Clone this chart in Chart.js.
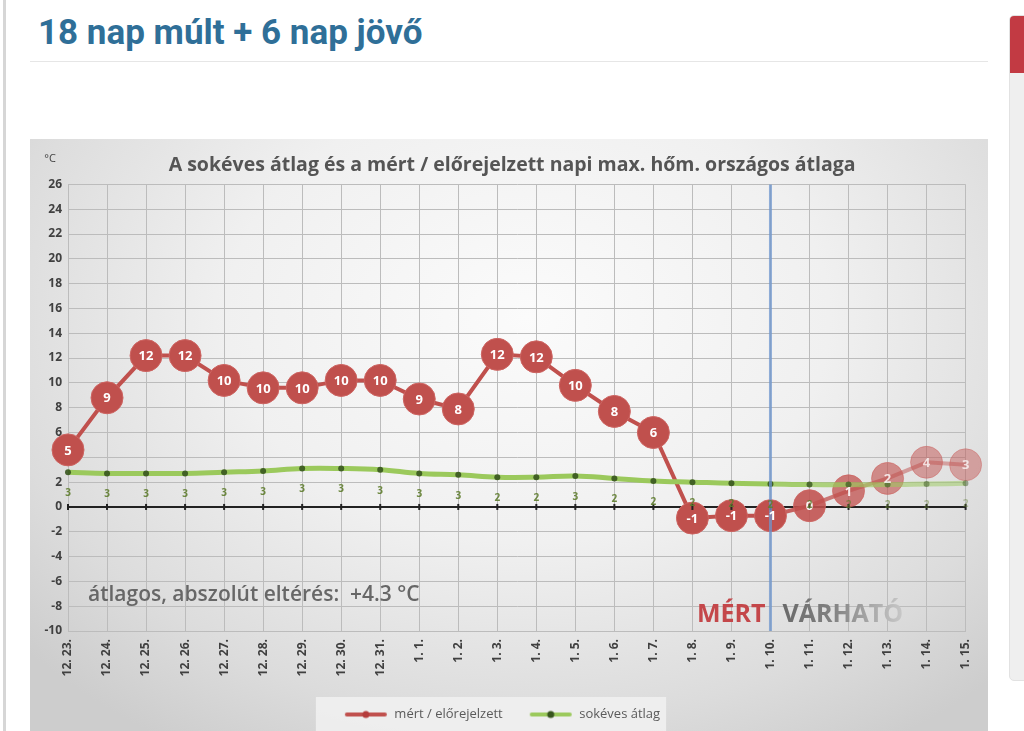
<!DOCTYPE html>
<html>
<head>
<meta charset="utf-8">
<script src="https://cdn.jsdelivr.net/npm/chart.js@4.4.1/dist/chart.umd.min.js"></script>
<style>
  body { margin: 0; background: #fff; width: 1024px; height: 731px; overflow: hidden; position: relative; font-family: Roboto, sans-serif; }
  #leftbar { position: absolute; left: 3px; top: 0; width: 3px; height: 731px; background: #d6d6d6; }
  h1 { position: absolute; left: 38px; top: 12px; margin: 0; font: bold 35px Roboto, sans-serif; color: #2f6f98; }
  #rule { position: absolute; left: 30px; top: 61px; width: 958px; height: 1px; background: #e6e6e6; }
  #side { position: absolute; left: 1009px; top: 15px; width: 20px; height: 664px; background: #efefef; border: 1px solid #e2e2e2; border-radius: 5px 0 0 5px; overflow: hidden; }
  #side div { height: 57px; background: #c23a43; }
  #box { position: absolute; left: 30px; top: 139px; width: 958px; height: 592px;
         background: radial-gradient(ellipse 70% 85% at 52% 30%, #fbfbfb 0%, #f0f0f0 45%, #dcdcdc 80%, #cdcdcd 100%); }
  canvas { display: block; }
</style>
</head>
<body>
<div id="leftbar"></div>
<h1>18 nap múlt + 6 nap jövő</h1>
<div id="rule"></div>
<div id="side"><div></div></div>
<div id="box"><canvas id="chart" width="958" height="592"></canvas></div>
<script>
var days = ['12. 23.', '12. 24.', '12. 25.', '12. 26.', '12. 27.', '12. 28.', '12. 29.', '12. 30.', '12. 31.',
            '1. 1.', '1. 2.', '1. 3.', '1. 4.', '1. 5.', '1. 6.', '1. 7.', '1. 8.', '1. 9.', '1. 10.',
            '1. 11.', '1. 12.', '1. 13.', '1. 14.', '1. 15.'];
var measured = [4.6, 8.8, 12.2, 12.2, 10.2, 9.6, 9.6, 10.2, 10.2, 8.7, 7.9, 12.3, 12.1, 9.8, 7.7, 6.0,
                -0.9, -0.7, -0.7, 0.1, 1.3, 2.3, 3.6, 3.4];
var longAvg = [2.8, 2.7, 2.7, 2.7, 2.8, 2.9, 3.1, 3.1, 3.0, 2.7, 2.6, 2.4, 2.4, 2.5, 2.3, 2.1,
               2.0, 1.9, 1.85, 1.8, 1.8, 1.8, 1.85, 1.9];
var todayIndex = 18;
var deviationText = 'átlagos, abszolút eltérés:  +4.3 °C';

// forecast days get paler
var fade = [1, 1, 1, 1, 1, 1, 1, 1, 1, 1, 1, 1, 1, 1, 1, 1, 1, 1, 1, 0.88, 0.75, 0.62, 0.5, 0.45];

function red(a) { return 'rgba(192,80,77,' + a + ')'; }
function green(a) { return 'rgba(155,201,92,' + a + ')'; }
function dkgreen(a) { return 'rgba(55,85,30,' + a + ')'; }

function legendIcon(lineCol, dotCol) {
	var c = document.createElement('canvas');
	c.width = 44; c.height = 10;
	var g = c.getContext('2d');
	g.strokeStyle = lineCol; g.lineWidth = 4; g.lineCap = 'round';
	g.beginPath(); g.moveTo(3, 5); g.lineTo(41, 5); g.stroke();
	g.fillStyle = dotCol;
	g.beginPath(); g.arc(22, 5, 3.5, 0, Math.PI * 2); g.fill();
	return c;
}
var icons = [legendIcon(red(1), 'rgb(180,60,60)'), legendIcon(green(1), dkgreen(1))];

var extras = {
	id: 'extras',
	beforeDraw: function(chart) {
		var boxes = chart.legend.legendHitBoxes;
		if (!boxes || !boxes.length) return;
		var l = Infinity, r = -Infinity, t = Infinity, b = -Infinity;
		boxes.forEach(function(h) { l = Math.min(l, h.left); r = Math.max(r, h.left + h.width); t = Math.min(t, h.top); b = Math.max(b, h.top + h.height); });
		var ctx = chart.ctx;
		ctx.save();
		ctx.fillStyle = 'rgba(240,240,240,0.9)';
		ctx.fillRect(l - 28, t - 11, r - l + 34, b - t + 22);
		ctx.restore();
	},
	afterDatasetsDraw: function(chart) {
		var ctx = chart.ctx, x = chart.scales.x, y = chart.scales.y, area = chart.chartArea;
		ctx.save();
		// tick marks on the zero axis
		ctx.strokeStyle = '#222'; ctx.lineWidth = 2;
		for (var i = 0; i < days.length; i++) {
			var px = x.getPixelForValue(i), py = y.getPixelForValue(0);
			ctx.beginPath(); ctx.moveTo(px, py - 3); ctx.lineTo(px, py + 3); ctx.stroke();
		}
		// today line
		var tx = x.getPixelForValue(todayIndex);
		ctx.strokeStyle = 'rgba(110,150,205,0.75)'; ctx.lineWidth = 3;
		ctx.beginPath(); ctx.moveTo(tx, area.top); ctx.lineTo(tx, area.bottom); ctx.stroke();

		ctx.textAlign = 'center'; ctx.textBaseline = 'middle';
		// labels of measured
		var rm = chart.getDatasetMeta(0);
		ctx.font = 'bold 13px "Open Sans"';
		rm.data.forEach(function(p, i) {
			ctx.fillStyle = 'rgba(255,255,255,' + (0.5 + 0.5 * fade[i]) + ')';
			ctx.fillText(Math.round(measured[i]), p.x, p.y + 1);
		});
		// labels of long-term average
		var gm = chart.getDatasetMeta(1);
		ctx.font = 'bold 10px "Open Sans"';
		gm.data.forEach(function(p, i) {
			ctx.fillStyle = 'rgba(95,125,45,' + (fade[i] * 0.9) + ')';
			ctx.fillText(Math.round(longAvg[i]), p.x, p.y + 21);
		});

		// notes
		ctx.textBaseline = 'alphabetic';
		ctx.font = '600 21px "Open Sans"'; ctx.textAlign = 'left'; ctx.fillStyle = '#676767';
		ctx.fillText(deviationText, x.getPixelForValue(0) + 20, y.getPixelForValue(-7.6));
		ctx.font = 'bold 25px "Open Sans"';
		ctx.textAlign = 'right'; ctx.fillStyle = '#c4474a';
		ctx.fillText('MÉRT', tx - 5, y.getPixelForValue(-9.3));
		ctx.textAlign = 'left';
		var w = ctx.measureText('VÁRHATÓ').width;
		var grad = ctx.createLinearGradient(tx + 12, 0, tx + 12 + w, 0);
		grad.addColorStop(0, '#6a6a6a'); grad.addColorStop(0.4, '#808080'); grad.addColorStop(1, '#c8c8c8');
		ctx.fillStyle = grad;
		ctx.fillText('VÁRHATÓ', tx + 12, y.getPixelForValue(-9.3));

		ctx.font = '11px "Open Sans"'; ctx.fillStyle = '#444'; ctx.textAlign = 'center';
		ctx.fillText('°C', area.left - 18, area.top - 22);
		ctx.restore();
	}
};

var ctx = document.getElementById('chart');
var chart = new Chart(ctx, {
	type: 'line',
	data: {
		labels: days,
		datasets: [
			{
				label: 'mért / előrejelzett',
				data: measured,
				borderColor: red(1),
				borderWidth: 4,
				segment: { borderColor: function(c) { return red(fade[c.p1DataIndex]); } },
				pointRadius: 16,
				pointHoverRadius: 16,
				pointBackgroundColor: fade.map(function(a) { return red(a); }),
				pointBorderColor: fade.map(function(a) { return 'rgba(205,100,97,' + a + ')'; }),
				pointBorderWidth: 1,
				tension: 0,
				order: 1
			},
			{
				label: 'sokéves átlag',
				data: longAvg,
				borderColor: green(1),
				borderWidth: 5,
				segment: { borderColor: function(c) { return green(fade[c.p1DataIndex] * 0.9 + 0.1); } },
				pointRadius: 3,
				pointHoverRadius: 3,
				pointBackgroundColor: fade.map(function(a) { return dkgreen(a * 0.8 + 0.1); }),
				pointBorderWidth: 0,
				tension: 0.4,
				order: 0
			}
		]
	},
	options: {
		responsive: false,
		devicePixelRatio: 1,
		animation: false,
		layout: { padding: { left: 0, right: 14, top: 0, bottom: 0 } },
		plugins: {
			title: {
				display: true,
				// leading spaces nudge the centred title to the right like the original
				text: '    A sokéves átlag és a mért / előrejelzett napi max. hőm. országos átlaga',
				color: '#555',
				font: { family: '"Open Sans"', size: 19.5, weight: 'bold' },
				padding: { top: 15, bottom: 7 }
			},
			legend: {
				position: 'bottom',
				labels: {
					usePointStyle: true,
					pointStyleWidth: 44,
					color: '#5a5a5a',
					font: { family: '"Open Sans"', size: 13 },
					padding: 26,
					sort: function(a, b) { return a.datasetIndex - b.datasetIndex; },
					generateLabels: function(chart) {
						var items = Chart.defaults.plugins.legend.labels.generateLabels(chart);
						items.forEach(function(it) { it.pointStyle = icons[it.datasetIndex]; });
						return items;
					}
				}
			},
			tooltip: { enabled: false }
		},
		scales: {
			x: {
				offset: false,
				grid: { color: '#bcbcbc', lineWidth: 1, drawTicks: false },
				border: { color: '#bcbcbc' },
				ticks: { maxRotation: 90, minRotation: 90, color: '#404040', padding: 8,
				         font: { family: '"Open Sans"', size: 12, weight: 'bold' } },
				afterFit: function(s) { s.height = 51; }
			},
			y: {
				min: -10, max: 26,
				grid: {
					color: function(c) { return c.tick.value === 0 ? '#222' : '#bcbcbc'; },
					lineWidth: function(c) { return c.tick.value === 0 ? 2 : 1; },
					drawTicks: false
				},
				border: { color: '#bcbcbc' },
				ticks: { stepSize: 2, color: '#404040', padding: 6,
				         font: { family: '"Open Sans"', size: 12, weight: 'bold' } },
				afterFit: function(s) { s.width = 38; }
			}
		}
	},
	plugins: [extras]
});
</script>
</body>
</html>
